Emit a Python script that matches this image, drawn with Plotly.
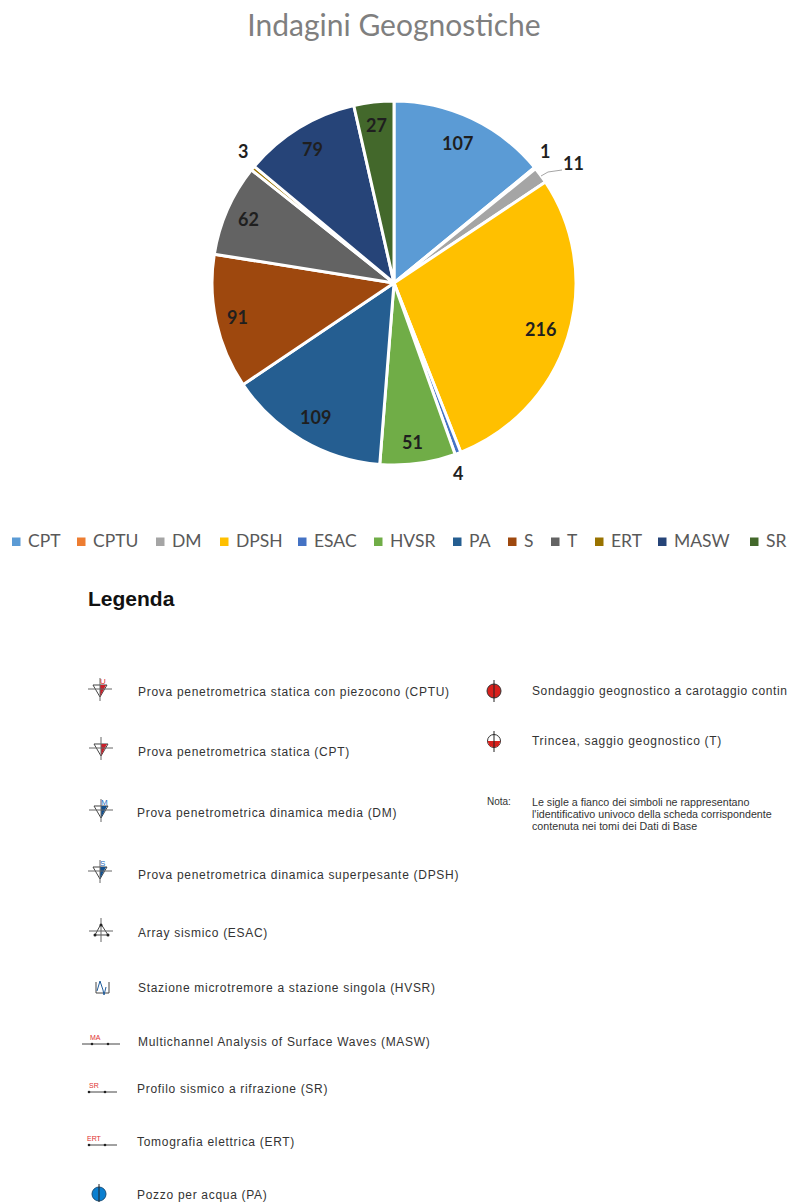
import math
import plotly.graph_objects as go

W, H = 789, 1203

# ---------- data ----------
categories = ["CPT", "CPTU", "DM", "DPSH", "ESAC", "HVSR", "PA", "S", "T", "ERT", "MASW", "SR"]
values = [107, 1, 11, 216, 4, 51, 109, 91, 62, 3, 79, 27]
colors = ["#5B9BD5", "#ED7D31", "#A5A5A5", "#FFC000", "#4472C4", "#70AD47",
          "#255E91", "#9E480E", "#636363", "#997300", "#264478", "#43682B"]
# label placement: distance from pie centre (px) and small angular nudge (deg)
label_radius = [154, 200, 216, 153, 200, 160, 155, 160, 159, 200, 157, 159]
label_nudge = [-1, -2, 2.6, 0, 2, 1, 0, 0, 0, 2, 0, 0]
# left edge of each legend text
legend_text_x = [27, 92, 171, 235, 313, 389, 468, 523, 566, 610, 673, 765]

legend_rows_left = [
    (137, 692, "Prova penetrometrica statica con piezocono (CPTU)"),
    (137, 752, "Prova penetrometrica statica (CPT)"),
    (136, 813, "Prova penetrometrica dinamica media (DM)"),
    (137, 875, "Prova penetrometrica dinamica superpesante (DPSH)"),
    (137, 933, "Array sismico (ESAC)"),
    (137, 988, "Stazione microtremore a stazione singola (HVSR)"),
    (137, 1042, "Multichannel Analysis of Surface Waves (MASW)"),
    (136, 1089, "Profilo sismico a rifrazione (SR)"),
    (136, 1142, "Tomografia elettrica (ERT)"),
    (136, 1195, "Pozzo per acqua (PA)"),
    (531, 691, "Sondaggio geognostico a carotaggio contin"),
    (531, 741, "Trincea, saggio geognostico (T)"),
]
nota_rows = [
    (486, 801, "Nota:"),
    (531, 802, "Le sigle a fianco dei simboli ne rappresentano"),
    (531, 814, "l'identificativo univoco della scheda corrispondente"),
    (531, 826, "contenuta nei tomi dei Dati di Base"),
]

# ---------- geometry helpers (arguments are page pixels) ----------
CX, CY, R = 394, 283, 182


def px(x):
    return x / W


def py(y):
    return 1 - y / H


shapes = []
annotations = []


def line(x0, y0, x1, y1, color="#666666", width=1):
    shapes.append(dict(type="line", xref="paper", yref="paper",
                       x0=px(x0), y0=py(y0), x1=px(x1), y1=py(y1),
                       line=dict(color=color, width=width)))


def poly(points, fill, color="rgba(0,0,0,0)", width=0):
    d = "M " + " L ".join(f"{px(a):.5f},{py(b):.5f}" for a, b in points) + " Z"
    shapes.append(dict(type="path", xref="paper", yref="paper", path=d,
                       fillcolor=fill, line=dict(color=color, width=width)))


def circle(x, y, r, fill, color="#333333", width=1):
    shapes.append(dict(type="circle", xref="paper", yref="paper",
                       x0=px(x - r), x1=px(x + r), y0=py(y + r), y1=py(y - r),
                       fillcolor=fill, line=dict(color=color, width=width)))


def text(x, y, s, size, color="#333333", anchor="left", family="Liberation Sans", bold=False):
    if bold:
        s = f"<b>{s}</b>"
    annotations.append(dict(x=px(x), y=py(y), xref="paper", yref="paper", text=s,
                            showarrow=False, xanchor=anchor, yanchor="middle",
                            align=anchor, borderpad=0,
                            font=dict(family=family, size=size, color=color)))


def cone(x, y, fill, tag, tag_color):
    poly([(x - 7, y - 4), (x + 7, y - 4), (x, y + 8)], "#ffffff", "#444444", 1)
    poly([(x, y - 4), (x + 6, y - 4), (x, y + 8)], fill)
    line(x - 12, y, x + 12, y)
    line(x, y - 11, x, y + 12)
    text(x + 3, y - 8, tag, 8, tag_color, "center")


# ---------- pie value labels, placed from the data ----------
total = sum(values)
cum = 0
for v, r, n in zip(values, label_radius, label_nudge):
    a = math.radians((cum + v / 2) / total * 360 + n)
    cum += v
    text(CX + r * math.sin(a), CY - r * math.cos(a), str(v), 18, "#1f1f1f", "center", "Lato", True)

# leader line of the "11" label
line(541, 176, 548, 172, "#a6a6a6", 1)
line(548, 172, 562, 170, "#a6a6a6", 1)

# ---------- chart legend ----------
for name, colour, tx in zip(categories, colors, legend_text_x):
    poly([(tx - 15, 537.5), (tx - 6.5, 537.5), (tx - 6.5, 546), (tx - 15, 546)], colour)
    text(tx, 540, name, 17.5, "#595959", family="Lato")

# ---------- symbol key ----------
text(87, 598, "Legenda", 21, "#111111", bold=True)
for x, y, s in legend_rows_left:
    text(x, y, s, 12, "#333333")
for x, y, s in nota_rows:
    text(x, y, s, 10.7 if s != "Nota:" else 10, "#333333")

cone(100, 689, "#c8202a", "U", "#e03030")
cone(101, 748, "#c8202a", "", "#e03030")
cone(101, 810, "#12508f", "M", "#1f6fc0")
cone(100, 871, "#12508f", "S", "#1f6fc0")

# ESAC
poly([(101, 924), (95, 935), (108, 935)], "rgba(0,0,0,0)", "#444444", 1)
line(89, 931, 113, 931)
line(101, 918, 101, 942)
circle(95, 935, 1.5, "#222222", "#222222", 0)
circle(108, 935, 1.5, "#222222", "#222222", 0)
circle(101, 925, 1.5, "#222222", "#222222", 0)

# HVSR
line(96, 982, 96, 993, "#444444")
line(96, 993, 109, 993, "#444444")
line(109, 993, 109, 982, "#444444")
for (a, b), (c, d) in zip([(97, 991), (100, 981), (103, 990), (104, 995)],
                          [(100, 981), (103, 990), (104, 995), (106, 987)]):
    line(a, b, c, d, "#1f5c9c")

# MASW / SR / ERT
for x0, x1, y, d0, d1, tag, tx in [(82, 120, 1044, 92, 108, "MA", 95),
                                   (88, 117, 1092, 89, 105, "SR", 94),
                                   (88, 117, 1145, 89, 105, "ERT", 94)]:
    line(x0, y, x1, y, "#444444")
    circle(d0, y, 1.3, "#222222", "#222222", 0)
    circle(d1, y, 1.3, "#222222", "#222222", 0)
    text(tx, y - 7, tag, 7, "#e03030", "center")

# PA
circle(99, 1194, 7, "#0a7fd0", "#1a4f7a", 1)
line(99, 1184, 99, 1202, "#222222")
# Sondaggio
circle(494, 691, 7, "#d8201c", "#333333", 1)
line(494, 680, 494, 702, "#222222")
# Trincea
circle(494, 741, 6.5, "#ffffff", "#333333", 1)
poly([(487.5, 741), (500.5, 741), (498.5, 746), (494, 747.5), (489.5, 746)], "#d8201c")
line(494, 731, 494, 752, "#222222")

# ---------- figure ----------
fig = go.Figure(go.Pie(
    labels=categories, values=values, sort=False, direction="clockwise", rotation=0,
    marker=dict(colors=colors, line=dict(color="#ffffff", width=3)),
    textinfo="none", hoverinfo="label+value", showlegend=False,
    domain=dict(x=[px(CX - R), px(CX + R)], y=[py(CY + R), py(CY - R)]),
))
fig.update_layout(
    width=W, height=H, margin=dict(l=0, r=0, t=0, b=0, autoexpand=False),
    paper_bgcolor="#ffffff", plot_bgcolor="#ffffff",
    title=dict(text="Indagini Geognostiche", x=px(394), xanchor="center", y=py(25), yanchor="middle",
               font=dict(family="Lato", size=30, color="#7f7f7f")),
    shapes=shapes, annotations=annotations,
)

# The figure fills the window, and the reference's key text is letter-spaced
# (plotly fonts have no such option).
page_setup = """
document.documentElement.style.margin = '0';
document.body.style.margin = '0';
var gd = document.getElementById('{plot_id}');
function spaceKey() {
  document.querySelectorAll('.annotation-text').forEach(function (t) {
    if (parseFloat(t.style.fontSize) === 12) {
      t.style.letterSpacing = t.textContent.indexOf('Sondaggio') === 0 ? '0.62px' : '0.7px';
    }
  });
}
spaceKey();
gd.on('plotly_afterplot', spaceKey);
"""
fig.write_html("out.html", post_script=page_setup, default_width=f"{W}px", default_height=f"{H}px",
               config={"displayModeBar": False})
